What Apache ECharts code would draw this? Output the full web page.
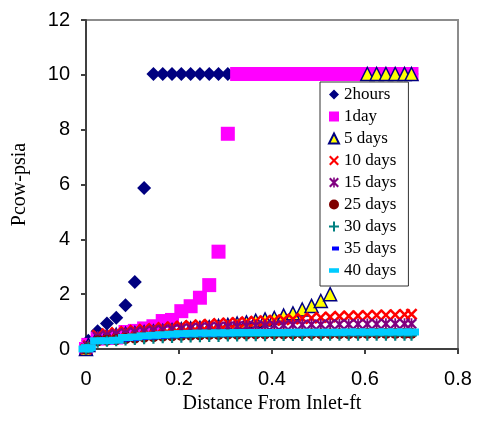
<!DOCTYPE html>
<html>
<head>
<meta charset="utf-8">
<script src="https://cdn.jsdelivr.net/npm/echarts/dist/echarts.min.js"></script>
<style>
  html, body { margin: 0; background: #fff; }
  #chart { width: 477px; height: 421px; }
</style>
</head>
<body>
<div id="chart"></div>
<script>
// distance from inlet (ft)
const xValues = [0, 0.005, 0.025, 0.045, 0.065, 0.085, 0.105, 0.125, 0.145, 0.165,
  0.185, 0.205, 0.225, 0.245, 0.265, 0.285, 0.305, 0.325, 0.345, 0.365,
  0.385, 0.405, 0.425, 0.445, 0.465, 0.485, 0.505, 0.525, 0.545, 0.565,
  0.585, 0.605, 0.625, 0.645, 0.665, 0.685, 0.70]

const hours2 = [0, 0.3, 0.65, 0.93, 1.14, 1.6, 2.44, 5.87, 10.03, 10.03,
  10.03, 10.03, 10.03, 10.03, 10.03, 10.03, 10.03, 10.03, 10.03, 10.03,
  10.03, 10.03, 10.03, 10.03, 10.03, 10.03, 10.03, 10.03, 10.03, 10.03,
  10.03, 10.03, 10.03, 10.03, 10.03, 10.03, 10.03]
const day1 = [0, 0.15, 0.38, 0.4, 0.42, 0.62, 0.66, 0.75, 0.83, 1.02,
  1.06, 1.38, 1.56, 1.87, 2.33, 3.55, 7.85, 10.03, 10.03, 10.03,
  10.03, 10.03, 10.03, 10.03, 10.03, 10.03, 10.03, 10.03, 10.03, 10.03,
  10.03, 10.03, 10.03, 10.03, 10.03, 10.03, 10.03]
const days5 = [0, 0.15, 0.47, 0.5, 0.52, 0.55, 0.58, 0.61, 0.64, 0.66,
  0.69, 0.72, 0.75, 0.77, 0.8, 0.84, 0.88, 0.93, 0.97, 1.03,
  1.08, 1.13, 1.22, 1.3, 1.44, 1.57, 1.75, 2.0, 2.7, 4.0,
  6.5, 10.03, 10.03, 10.03, 10.03, 10.03, 10.03]
const days10 = [0, 0.12, 0.5, 0.56, 0.6, 0.64, 0.68, 0.72, 0.75, 0.78,
  0.81, 0.84, 0.86, 0.88, 0.9, 0.93, 0.95, 0.97, 0.99, 1.01,
  1.03, 1.05, 1.07, 1.09, 1.11, 1.13, 1.15, 1.17, 1.19, 1.2,
  1.21, 1.22, 1.23, 1.24, 1.25, 1.26, 1.27]
const days15 = [0, 0.1, 0.45, 0.5, 0.55, 0.58, 0.62, 0.65, 0.68, 0.7,
  0.72, 0.74, 0.76, 0.78, 0.8, 0.81, 0.82, 0.83, 0.84, 0.85,
  0.86, 0.87, 0.87, 0.88, 0.88, 0.89, 0.89, 0.9, 0.9, 0.9,
  0.91, 0.91, 0.91, 0.92, 0.92, 0.92, 0.92]
const days25 = [0, 0.05, 0.3, 0.32, 0.34, 0.38, 0.4, 0.43, 0.45, 0.47,
  0.48, 0.5, 0.51, 0.52, 0.53, 0.53, 0.54, 0.54, 0.54, 0.55,
  0.55, 0.55, 0.55, 0.55, 0.56, 0.56, 0.56, 0.56, 0.56, 0.56,
  0.57, 0.57, 0.57, 0.57, 0.57, 0.57, 0.57]
const days30 = [0, 0.05, 0.25, 0.28, 0.3, 0.33, 0.35, 0.37, 0.39, 0.41,
  0.42, 0.43, 0.44, 0.45, 0.46, 0.46, 0.47, 0.47, 0.48, 0.48,
  0.48, 0.49, 0.49, 0.49, 0.49, 0.5, 0.5, 0.5, 0.5, 0.5,
  0.5, 0.5, 0.5, 0.5, 0.5, 0.5, 0.5]
const days35 = [0, 0.05, 0.27, 0.29, 0.31, 0.36, 0.38, 0.42, 0.44, 0.46,
  0.48, 0.5, 0.52, 0.53, 0.54, 0.55, 0.55, 0.56, 0.56, 0.57,
  0.57, 0.57, 0.58, 0.58, 0.58, 0.58, 0.59, 0.59, 0.59, 0.59,
  0.59, 0.6, 0.6, 0.6, 0.6, 0.6, 0.6]
const days40 = [0, 0.05, 0.3, 0.3, 0.32, 0.42, 0.44, 0.48, 0.5, 0.52,
  0.54, 0.56, 0.57, 0.58, 0.58, 0.59, 0.59, 0.6, 0.6, 0.6,
  0.6, 0.6, 0.6, 0.61, 0.61, 0.61, 0.61, 0.61, 0.61, 0.62,
  0.62, 0.62, 0.62, 0.62, 0.62, 0.62, 0.62]

const xTicks = [0, 0.2, 0.4, 0.6, 0.8]
const yTicks = [0, 2, 4, 6, 8, 10, 12]

// marker shapes
const crossMark = 'path://M0,1.5L1.5,0L5,3.5L8.5,0L10,1.5L6.5,5L10,8.5L8.5,10L5,6.5L1.5,10L0,8.5L3.5,5Z'
const starMark = crossMark + 'M4.2,0H5.8V10H4.2Z'
const plusMark = 'path://M4,0H6V4H10V6H6V10H4V6H0V4H4Z'

function pts(ys) {
  return xValues.map((x, i) => [x, ys[i]])
}

const seriesDefs = [
  { name: '2hours', data: hours2, symbol: 'diamond', size: 14, color: '#000080' },
  { name: '1day', data: day1, symbol: 'rect', size: 14, color: '#ff00ff' },
  { name: '5 days', data: days5, symbol: 'triangle', size: 13, color: '#ffff00', border: '#000080' },
  { name: '10 days', data: days10, symbol: crossMark, size: 12, color: '#ff0000' },
  { name: '15 days', data: days15, symbol: starMark, size: 11, color: '#800080' },
  { name: '25 days', data: days25, symbol: 'circle', size: 11, color: '#800000' },
  { name: '30 days', data: days30, symbol: plusMark, size: 11, color: '#008080' },
  { name: '35 days', data: days35, symbol: 'rect', size: [8, 5], color: '#0000ff' },
  { name: '40 days', data: days40, symbol: 'rect', size: [15, 7], color: '#00ccff' }
]

const legendIcons = {
  '35 days': 'path://M0,0M10,10M3,3H10V7H3Z',
  '40 days': 'path://M0,0M10,10M0,2.5H11V7.5H0Z'
}

const axisFont = { fontFamily: 'Liberation Sans', fontSize: 20, color: '#000' }
const nameFont = { fontFamily: 'Liberation Serif', fontSize: 20, color: '#000' }

const option = {
  animation: false,
  backgroundColor: '#fff',
  grid: { left: 86, right: 19, top: 20, bottom: 72, show: true, borderColor: '#8c8c8c', borderWidth: 2 },
  xAxis: {
    type: 'value',
    min: xTicks[0],
    max: xTicks[xTicks.length - 1],
    interval: 0.2,
    name: 'Distance From Inlet-ft',
    nameLocation: 'middle',
    nameGap: 44,
    nameTextStyle: nameFont,
    splitLine: { show: false },
    axisLine: { onZero: false, lineStyle: { color: '#404040', width: 2 } },
    axisTick: { length: 5, lineStyle: { color: '#404040', width: 2 } },
    axisLabel: Object.assign({ margin: 20 }, axisFont)
  },
  yAxis: {
    type: 'value',
    min: yTicks[0],
    max: yTicks[yTicks.length - 1],
    interval: 2,
    name: 'Pcow-psia',
    nameLocation: 'middle',
    nameGap: 56,
    nameTextStyle: nameFont,
    splitLine: { show: false },
    axisLine: { onZero: false, lineStyle: { color: '#404040', width: 2 } },
    axisTick: { length: 5, lineStyle: { color: '#404040', width: 2 } },
    axisLabel: Object.assign({ margin: 16 }, axisFont)
  },
  legend: {
    orient: 'vertical',
    left: 320,
    top: 82,
    padding: [4, 12, 7, 8],
    itemWidth: 10,
    itemHeight: 10,
    itemGap: 5,
    selectedMode: false,
    backgroundColor: '#fff',
    borderColor: '#333',
    borderWidth: 1,
    textStyle: { fontFamily: 'Liberation Serif', fontSize: 17, color: '#000', lineHeight: 16 },
    data: seriesDefs.map(s => legendIcons[s.name] ? { name: s.name, icon: legendIcons[s.name] } : s.name)
  },
  series: seriesDefs.map(s => ({
    name: s.name,
    type: 'scatter',
    data: pts(s.data),
    symbol: s.symbol,
    symbolSize: s.size,
    itemStyle: {
      color: s.color,
      opacity: 1,
      borderColor: s.border || s.color,
      borderWidth: s.border ? 1.5 : 0
    }
  }))
}

const chart = echarts.init(document.getElementById('chart'))
chart.setOption(option)
</script>
</body>
</html>
